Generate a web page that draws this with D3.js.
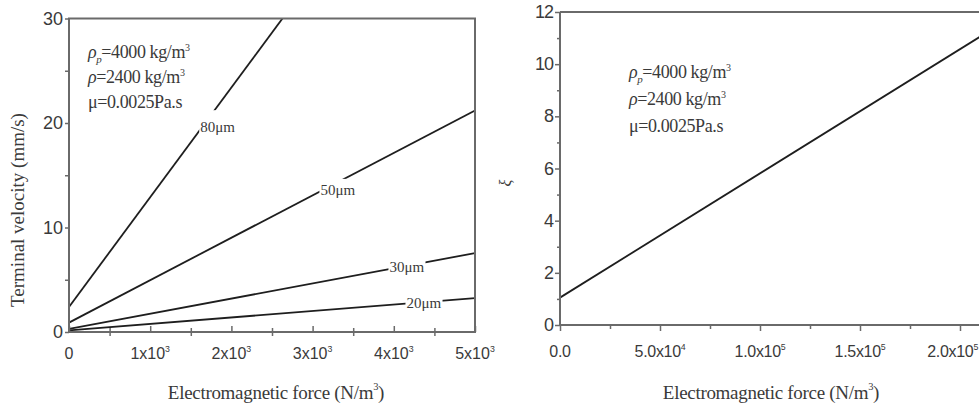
<!DOCTYPE html>
<html><head><meta charset="utf-8">
<script src="https://cdn.jsdelivr.net/npm/d3@7"></script>
<style>body{margin:0;background:#fff}svg{display:block}</style>
</head><body>
<svg id="c" width="979" height="411"></svg>
<script>
// ---------- data ----------
const sizes = ["80μm", "50μm", "30μm", "20μm"];
// terminal velocity (mm/s) at F=0 and at F=5e3 N/m^3 (80μm line leaves the frame at 30)
const velStart = [2.4, 0.9, 0.3, 0.15];
const velEnd = [54.9, 21.2, 7.55, 3.25];
const forceLeft = [0, 5000];
const labelForce = [1830, 3310, 4160, 4370];
const labelVel = [19.6, 13.6, 6.2, 2.8];
const leftXTicks = [0, 1000, 2000, 3000, 4000, 5000];
const leftXTickLabels = [["0",""],["1x10","3"],["2x10","3"],["3x10","3"],["4x10","3"],["5x10","3"]];
const leftYTicks = [0, 10, 20, 30];

const forceRight = [0, 210000];
const xiValues = [1.05, 11.05];
const rightXTicks = [0, 50000, 100000, 150000, 200000];
const rightXTickLabels = [["0.0",""],["5.0x10","4"],["1.0x10","5"],["1.5x10","5"],["2.0x10","5"]];
const rightYTicks = [0, 2, 4, 6, 8, 10, 12];

const svg = d3.select("#c");
const axisCol = "#6a6a6a", lineCol = "#1e1e1e", txtCol = "#3a3a3a";
const sans = "'Liberation Sans', Arial, sans-serif";
const serif = "'Liberation Serif', 'Times New Roman', serif";

function supLabel(sel, parts, size) {
  sel.text(null);
  sel.append("tspan").text(parts[0]);
  if (parts[1]) sel.append("tspan").attr("dy", -size*0.45).attr("font-size", size*0.55).text(parts[1]);
}

function annotation(g, x, y, dy) {
  const fs = 18;
  const t1 = g.append("text").attr("x", x).attr("y", y).attr("font-family", serif).attr("font-size", fs).attr("fill", txtCol).attr("letter-spacing", -0.4);
  t1.append("tspan").attr("font-style","italic").text("ρ");
  t1.append("tspan").attr("font-style","italic").attr("font-size", 11).attr("dy", 5).text("p");
  t1.append("tspan").attr("dy", -5).text("=4000 kg/m");
  t1.append("tspan").attr("dy", -7).attr("font-size", 10).text("3");
  const t2 = g.append("text").attr("x", x).attr("y", y+dy).attr("font-family", serif).attr("font-size", fs).attr("fill", txtCol).attr("letter-spacing", -0.4);
  t2.append("tspan").attr("font-style","italic").text("ρ");
  t2.append("tspan").text("=2400 kg/m");
  t2.append("tspan").attr("dy", -7).attr("font-size", 10).text("3");
  g.append("text").attr("x", x).attr("y", y+2*dy).attr("font-family", serif).attr("font-size", fs).attr("fill", txtCol).attr("letter-spacing", -0.4).text("μ=0.0025Pa.s");
}

function xLabel(g, cx) {
  const fs = 19;
  const xl = g.append("text").attr("x", cx).attr("y", 399).attr("text-anchor","middle")
    .attr("font-family", serif).attr("font-size", fs).attr("fill", txtCol).attr("letter-spacing", -0.3);
  supLabel(xl, ["Electromagnetic force (N/m","3"], fs);
  xl.append("tspan").attr("dy", fs*0.45).attr("font-size",fs).text(")");
}

// ---------- left chart ----------
{
  const x = d3.scaleLinear().domain([0, 5000]).range([69, 475]);
  const y = d3.scaleLinear().domain([0, 30]).range([332, 18.5]);
  const g = svg.append("g");
  svg.append("clipPath").attr("id","clipL").append("rect")
    .attr("x", 69).attr("y", 18.5).attr("width", 406).attr("height", 313.5);

  sizes.forEach((s,i)=>{
    const pts = [[forceLeft[0], velStart[i]], [forceLeft[1], velEnd[i]]];
    g.append("path").attr("clip-path","url(#clipL)")
      .attr("d", d3.line().x(d=>x(d[0])).y(d=>y(d[1]))(pts))
      .attr("stroke", lineCol).attr("stroke-width", 1.8).attr("fill","none");
  });
  sizes.forEach((s,i)=>{
    const lx = x(labelForce[i]), ly = y(labelVel[i]);
    const t = g.append("text").attr("x", lx).attr("y", ly+5).attr("text-anchor","middle")
      .attr("font-family", serif).attr("font-size", 15).attr("fill", txtCol).text(s);
    const bb = t.node().getBBox();
    const padY = i===0 ? 9 : 3;
    g.insert("rect", "text").attr("x", bb.x-1).attr("y", bb.y-padY).attr("width", bb.width+2).attr("height", bb.height+2*padY).attr("fill","#fff");
  });

  g.append("rect").attr("x", 69).attr("y", 18.5).attr("width", 406).attr("height", 313.5)
    .attr("fill","none").attr("stroke", axisCol).attr("stroke-width", 2);

  const xa = g.append("g").attr("transform","translate(0,332)")
    .call(d3.axisBottom(x).tickValues(d3.range(0, 5001, 500)).tickSize(4).tickFormat(""));
  xa.select(".domain").remove();
  xa.selectAll("line").attr("stroke", axisCol).attr("stroke-width",1.5).attr("y1",-4);
  xa.selectAll(".tick").filter(d=>d%1000===0).select("line").attr("y1",-6).attr("y2",0);
  leftXTicks.forEach((v,i)=>{
    const t = g.append("text").attr("x", x(v)).attr("y", 359).attr("text-anchor","middle")
      .attr("font-family", sans).attr("font-size", 16).attr("fill", txtCol);
    supLabel(t, leftXTickLabels[i], 16);
  });
  const ya = g.append("g").attr("transform","translate(69,0)")
    .call(d3.axisLeft(y).tickValues(d3.range(0,31,5)).tickSize(4).tickFormat(""));
  ya.select(".domain").remove();
  ya.selectAll("line").attr("stroke", axisCol).attr("stroke-width",1.5);
  leftYTicks.forEach(v=>{
    g.append("text").attr("x", 63).attr("y", y(v)+6).attr("text-anchor","end")
      .attr("font-family", sans).attr("font-size", 18).attr("fill", txtCol).text(v);
  });

  annotation(g, 88, 58, 25);
  xLabel(g, 276);
  g.append("text").attr("transform","translate(24,210) rotate(-90)").attr("text-anchor","middle")
    .attr("font-family", serif).attr("font-size", 19).attr("fill", txtCol).text("Terminal velocity (mm/s)");
}

// ---------- right chart ----------
{
  const x = d3.scaleLinear().domain(forceRight).range([560, 980]);
  const y = d3.scaleLinear().domain([0, 12]).range([325, 12]);
  const g = svg.append("g");
  g.append("path").attr("d", d3.line().x(d=>x(d[0])).y(d=>y(d[1]))([[forceRight[0], xiValues[0]],[forceRight[1], xiValues[1]]]))
    .attr("stroke", lineCol).attr("stroke-width", 1.8).attr("fill","none");
  g.append("line").attr("x1",560).attr("x2",980).attr("y1",12).attr("y2",12).attr("stroke",axisCol).attr("stroke-width",2);
  g.append("line").attr("x1",560).attr("x2",980).attr("y1",325).attr("y2",325).attr("stroke",axisCol).attr("stroke-width",2);
  g.append("line").attr("x1",560).attr("x2",560).attr("y1",12).attr("y2",326).attr("stroke",axisCol).attr("stroke-width",2);

  const xa = g.append("g").attr("transform","translate(0,325)")
    .call(d3.axisBottom(x).tickValues(d3.range(0, 210001, 25000)).tickSize(4).tickFormat(""));
  xa.select(".domain").remove();
  xa.selectAll("line").attr("stroke", axisCol).attr("stroke-width",1.5);
  xa.selectAll(".tick").filter(d=>d%50000===0).select("line").attr("y2",6);
  rightXTicks.forEach((v,i)=>{
    const last = i === rightXTicks.length-1;
    const t = g.append("text").attr("x", last ? 978 : x(v)).attr("y", 357)
      .attr("text-anchor", last ? "end" : "middle")
      .attr("font-family", sans).attr("font-size", 16).attr("fill", txtCol).attr("letter-spacing", -0.3);
    supLabel(t, rightXTickLabels[i], 16);
  });
  const ya = g.append("g").attr("transform","translate(560,0)")
    .call(d3.axisLeft(y).tickValues(d3.range(0,12.1,1)).tickSize(3).tickFormat(""));
  ya.select(".domain").remove();
  ya.selectAll("line").attr("stroke", axisCol).attr("stroke-width",1.5);
  ya.selectAll(".tick").filter(d=>d%2===0).select("line").attr("x2",-5);
  rightYTicks.forEach(v=>{
    g.append("text").attr("x", 553).attr("y", y(v)+6).attr("text-anchor","end")
      .attr("font-family", sans).attr("font-size", 18).attr("fill", txtCol).attr("letter-spacing", -1).text(v);
  });

  annotation(g, 629, 78, 27);
  xLabel(g, 771);
  g.append("text").attr("transform","translate(511,183) rotate(-90)").attr("text-anchor","middle")
    .attr("font-family", serif).attr("font-size", 16).attr("font-style","italic").attr("fill", txtCol).text("ξ");
}
</script>
</body></html>
